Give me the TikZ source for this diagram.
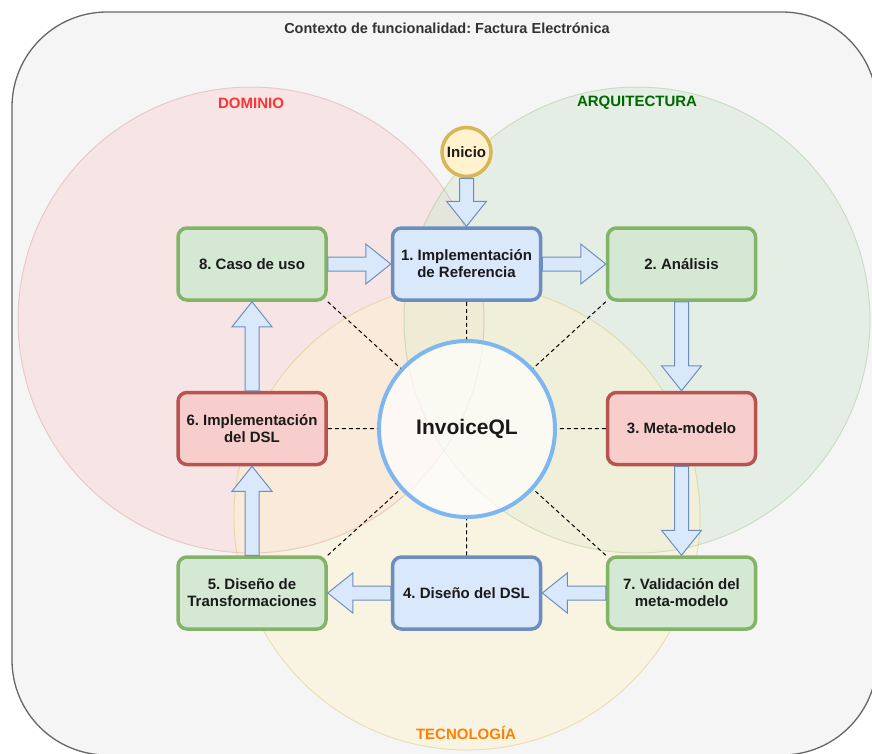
\documentclass[tikz,border=0pt]{standalone}
\usepackage{fontspec}
\setmainfont{Liberation Sans}
\usetikzlibrary{calc}
\definecolor{bgc}{HTML}{F5F5F5}
\definecolor{bgline}{HTML}{666666}
\definecolor{titc}{HTML}{333333}
\definecolor{redf}{HTML}{F8CECC}
\definecolor{redd}{HTML}{B85450}
\definecolor{grnf}{HTML}{D5E8D4}
\definecolor{grnd}{HTML}{82B366}
\definecolor{bluf}{HTML}{DAE8FC}
\definecolor{blud}{HTML}{6C8EBF}
\definecolor{yelf}{HTML}{FFF2CC}
\definecolor{yeld}{HTML}{D6B656}
\definecolor{iqlc}{HTML}{7EB6F0}
\definecolor{domc}{HTML}{FF3333}
\definecolor{arqc}{HTML}{006600}
\definecolor{tecc}{HTML}{FF8000}
\definecolor{txt}{HTML}{1A1A1A}
\tikzset{
  box/.style={rectangle, rounded corners=9pt, minimum width=148pt, minimum height=72pt,
    line width=3.5pt, font=\bfseries\fontsize{15}{17}\selectfont, align=center, text=txt, inner sep=2pt},
  gbox/.style={box, fill=grnf, draw=grnd},
  rbox/.style={box, fill=redf, draw=redd},
  bbox/.style={box, fill=bluf, draw=blud},
  venn/.style={line width=1pt, fill opacity=0.5, draw opacity=0.3},
  lab/.style={font=\bfseries\fontsize{15}{18}\selectfont},
  dashline/.style={dash pattern=on 4pt off 3pt, line width=1pt, black},
  fatarr/.style={fill=bluf, draw=blud, line width=1pt, line join=miter},
}
\newcommand\fatarrow[2]{%
  \coordinate (fa-h) at ($(#2)!25pt!(#1)$);
  \draw[fatarr] ($(#1)!7pt!90:(#2)$) -- ($(fa-h)!7pt!-90:(#1)$) -- ($(fa-h)!20pt!-90:(#1)$) -- (#2)
     -- ($(fa-h)!20pt!90:(#1)$) -- ($(fa-h)!7pt!90:(#1)$) -- ($(#1)!7pt!-90:(#2)$) -- cycle;}
\begin{document}
\frenchspacing
\begin{tikzpicture}[x=1pt,y=-1pt]
\useasboundingbox (0,0) rectangle (872,753);
\begin{scope}
\clip (0,0) rectangle (872,753);
\draw[fill=bgc, draw=bgline, line width=1.3pt, rounded corners=95pt] (12,12) rectangle (877,755);
\fill[venn, fill=redf, fill opacity=0.4] (251,320) circle[radius=233pt];
\fill[venn, fill=grnf] (637,320) circle[radius=233pt];
\fill[venn, fill=yelf, fill opacity=0.45] (467,517) circle[radius=233pt];
\draw[venn, draw=redd, draw opacity=0.22] (251,320) circle[radius=233pt];
\draw[venn, draw=grnd] (637,320) circle[radius=233pt];
\draw[venn, draw=yeld, draw opacity=0.35] (467,517) circle[radius=233pt];
\end{scope}
\node[font=\bfseries\fontsize{14.5}{17}\selectfont, text=titc] (title) at (447,28) {Contexto de funcionalidad: Factura Electrónica};
\node[lab, text=domc] (ldom) at (251,103) {DOMINIO};
\node[lab, text=arqc] (larq) at (637,103) {ARQUITECTURA};
\node[lab, text=tecc] (ltec) at (466,733) {TECNOLOGÍA};

\node[circle, minimum size=176pt, inner sep=0pt, draw=iqlc, line width=4pt, fill=white, fill opacity=0.7, text opacity=1,
  font=\bfseries\fontsize{21}{24}\selectfont, text=txt] (iql) at (467,429) {InvoiceQL};

\node[gbox] (b8) at (252,264) {8. Caso de uso};
\node[bbox] (b1) at (466.5,264) {1. Implementación\\de Referencia};
\node[gbox] (b2) at (681.5,264) {2. Análisis};
\node[rbox] (b6) at (252,428.5) {6. Implementación\\del DSL};
\node[rbox] (b3) at (681.5,428.5) {3. Meta-modelo};
\node[gbox] (b5) at (252,593) {5. Diseño de\\Transformaciones};
\node[bbox] (b4) at (466.5,593) {4. Diseño del DSL};
\node[gbox] (b7) at (681.5,593) {7. Validación del\\meta-modelo};

\node[circle, minimum size=49pt, inner sep=1pt, fill=yelf, draw=yeld, line width=3.5pt,
  font=\bfseries\fontsize{15}{17}\selectfont, text=txt] (ini) at (466.5,152) {Inicio};

\draw[dashline] (b8.south east) -- (iql);
\draw[dashline] (b1.south) -- (iql);
\draw[dashline] (b2.south west) -- (iql);
\draw[dashline] (b6.east) -- (iql);
\draw[dashline] (b3.west) -- (iql);
\draw[dashline] (b5.north east) -- (iql);
\draw[dashline] (b4.north) -- (iql);
\draw[dashline] (b7.north west) -- (iql);

\fatarrow{ini.south}{b1.north}
\fatarrow{b8.east}{b1.west}
\fatarrow{b1.east}{b2.west}
\fatarrow{b2.south}{b3.north}
\fatarrow{b3.south}{b7.north}
\fatarrow{b7.west}{b4.east}
\fatarrow{b4.west}{b5.east}
\fatarrow{b5.north}{b6.south}
\fatarrow{b6.north}{b8.south}
\end{tikzpicture}
\end{document}
